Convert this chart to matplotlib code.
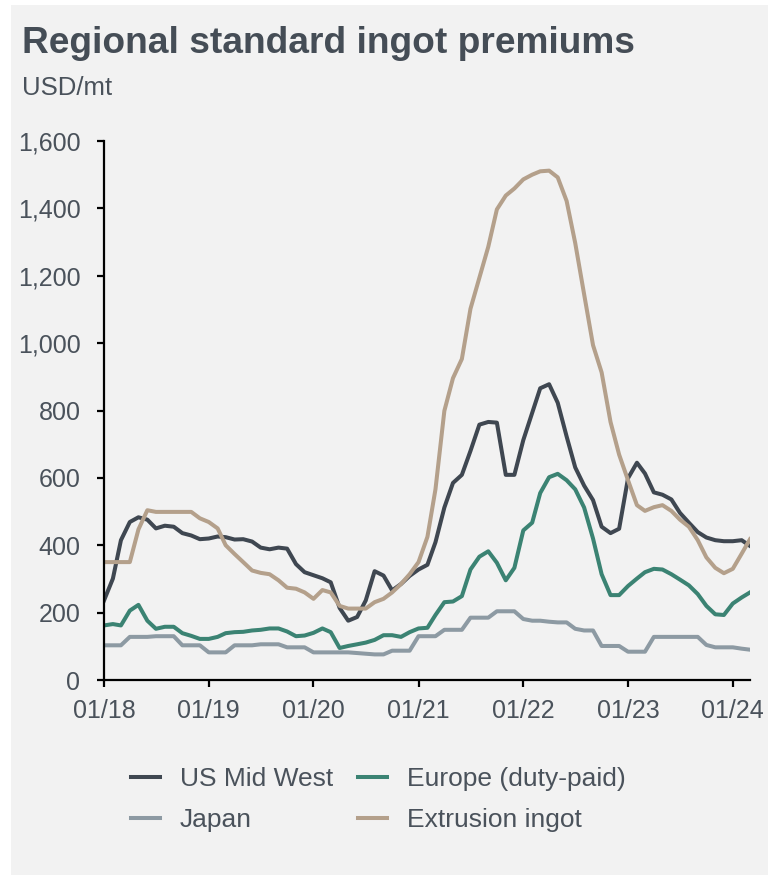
import numpy as np
import pandas as pd
import matplotlib
matplotlib.use('Agg')
import matplotlib.pyplot as plt
import matplotlib.dates as mdates
from matplotlib.patches import Rectangle

plt.rcParams['font.family'] = ['Liberation Sans', 'DejaVu Sans']

# monthly premiums, Jan 2018 - Mar 2024 (USD/mt)
months = pd.date_range('2018-01-01', periods=75, freq='MS')

us_midwest = [236, 301, 415, 469, 483, 476, 450, 458, 455, 436, 429, 418,
              420, 426, 424, 417, 418, 411, 393, 388, 393, 390, 344, 320,
              311, 302, 290, 214, 176, 187, 236, 323, 310, 266, 285, 309,
              328, 342, 409, 512, 585, 609, 680, 758, 766, 764, 609, 609,
              712, 793, 866, 878, 823, 723, 631, 577, 534, 455, 436, 449,
              599, 645, 613, 557, 550, 536, 496, 467, 439, 423, 415, 412,
              412, 415, 398]

europe = [162, 166, 162, 206, 223, 176, 152, 158, 158, 139, 131, 122,
          122, 128, 139, 142, 143, 147, 149, 153, 153, 144, 130, 132,
          140, 153, 142, 95, 101, 106, 111, 119, 133, 133, 128, 142,
          153, 155, 193, 231, 233, 249, 328, 366, 382, 348, 296, 333,
          444, 467, 555, 602, 612, 593, 566, 512, 420, 314, 252, 252,
          279, 301, 320, 330, 328, 314, 298, 281, 255, 220, 195, 193,
          227, 245, 260]

japan = [103, 103, 103, 128, 128, 128, 130, 130, 130, 103, 103, 103,
         82, 82, 82, 103, 103, 103, 106, 106, 106, 97, 97, 97,
         82, 82, 82, 82, 82, 80, 78, 76, 76, 87, 87, 87,
         130, 130, 130, 149, 149, 149, 185, 185, 185, 204, 204, 204,
         181, 176, 176, 173, 171, 171, 152, 147, 147, 101, 101, 101,
         84, 84, 84, 128, 128, 128, 128, 128, 128, 104, 97, 97,
         97, 93, 90]

extrusion = [350, 350, 350, 350, 447, 504, 499, 499, 499, 499, 499, 480,
             469, 450, 400, 374, 350, 325, 318, 314, 296, 274, 271, 260,
             241, 267, 260, 220, 212, 212, 212, 231, 241, 260, 285, 314,
             350, 425, 566, 799, 896, 953, 1102, 1194, 1286, 1397, 1438, 1459,
             1486, 1500, 1510, 1512, 1492, 1422, 1297, 1145, 994, 913, 766, 669,
             593, 519, 502, 513, 519, 502, 476, 455, 415, 364, 333, 317,
             330, 375, 418]

text_col = '#4a525b'

fig = plt.figure(figsize=(7.68, 8.75), dpi=100, facecolor='white')
fig.patches.append(Rectangle((11 / 768, 0), 1, 1 - 5 / 875, transform=fig.transFigure,
                             facecolor='#f2f2f2', edgecolor='none', zorder=-10))

ax = fig.add_axes([104 / 768, 1 - 680 / 875, (750 - 104) / 768, (680 - 141) / 875])
ax.set_facecolor('none')

ax.plot(months, us_midwest, color='#3f4751', lw=2.9, label='US Mid West')
ax.plot(months, japan, color='#8d9aa3', lw=2.9, label='Japan')
ax.plot(months, europe, color='#3b8373', lw=2.9, label='Europe (duty-paid)')
ax.plot(months, extrusion, color='#b4a08b', lw=2.9, label='Extrusion ingot')

ax.set_xlim(months[0], months[-1])
ax.set_ylim(0, 1600)
ax.set_yticks(np.arange(0, 1601, 200))
ax.yaxis.set_major_formatter(matplotlib.ticker.FuncFormatter(lambda v, p: '{:,.0f}'.format(v)))
ax.xaxis.set_major_locator(mdates.MonthLocator(bymonth=1))
ax.xaxis.set_major_formatter(mdates.DateFormatter('%m/%y'))

for s in ['top', 'right']:
    ax.spines[s].set_visible(False)
for s in ['left', 'bottom']:
    ax.spines[s].set_color('black')
    ax.spines[s].set_linewidth(1.6)
ax.tick_params(axis='both', colors='black', width=1.6, length=5, labelsize=18, labelcolor=text_col)
ax.tick_params(axis='y', pad=12)
ax.tick_params(axis='x', pad=9)

fig.text(22 / 768, 1 - 53 / 875, 'Regional standard ingot premiums', fontsize=26.7,
         fontweight='bold', color='#454d56', va='baseline', ha='left')
fig.text(22 / 768, 1 - 95 / 875, 'USD/mt', fontsize=18.5, color=text_col, va='baseline', ha='left')

handles, labels = ax.get_legend_handles_labels()
leg = fig.legend(handles, labels, ncol=2, loc='upper left', bbox_to_anchor=(131 / 768, 1 - 767 / 875),
                 frameon=False, fontsize=19, handlelength=1.1, handletextpad=0.75,
                 columnspacing=0.95, labelspacing=0.66, borderpad=0, borderaxespad=0)
for t in leg.get_texts():
    t.set_color(text_col)

fig.savefig('out.png', dpi=100, facecolor=fig.get_facecolor())
